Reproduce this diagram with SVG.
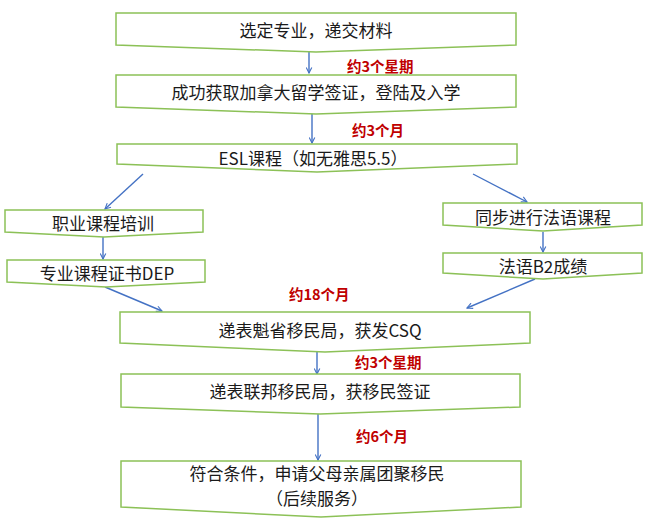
<svg xmlns="http://www.w3.org/2000/svg" width="648" height="526" viewBox="0 0 648 526">
<defs>
<marker id="ah" viewBox="0 0 10 10" refX="9" refY="5" markerWidth="7" markerHeight="7" markerUnits="userSpaceOnUse" orient="auto">
<path d="M1,1 L9,5 L1,9" fill="none" stroke="#4472C4" stroke-width="1.6"/>
</marker>
</defs>
<style>
.box{fill:#FFFFFF;stroke:#8CC157;stroke-width:1.5;}
.t{font-family:"Noto Sans CJK SC","Microsoft YaHei",sans-serif;font-size:17px;fill:#1a1a1a;text-anchor:middle;dominant-baseline:central;}
.l{font-family:"Noto Sans CJK SC",sans-serif;font-size:14.5px;font-weight:bold;fill:#C00000;dominant-baseline:central;}
.c{fill:none;stroke:#4472C4;stroke-width:1.4;marker-end:url(#ah);}
</style>
<rect width="648" height="526" fill="#FFFFFF"/>
<g id="connectors">
<line class="c" x1="309" y1="52" x2="309" y2="73"/>
<line class="c" x1="312" y1="113" x2="312" y2="143"/>
<line class="c" x1="143" y1="174" x2="105" y2="209"/>
<line class="c" x1="473" y1="174" x2="527" y2="202"/>
<line class="c" x1="103" y1="237" x2="103" y2="259"/>
<line class="c" x1="543" y1="232" x2="543" y2="252"/>
<line class="c" x1="105" y1="287" x2="162" y2="311"/>
<line class="c" x1="535" y1="279" x2="467" y2="308"/>
<line class="c" x1="317" y1="352" x2="317" y2="374"/>
<line class="c" x1="318" y1="414" x2="318" y2="460"/>
</g>
<g id="labels">
<text class="l" x="347" y="65">约3个星期</text>
<text class="l" x="352" y="129">约3个月</text>
<text class="l" x="289" y="293">约18个月</text>
<text class="l" x="355" y="361">约3个星期</text>
<text class="l" x="356" y="435">约6个月</text>
</g>
<g id="n1">
<path class="box" d="M116,13 L516,13 L516,45 L316,52 L116,45 Z"/>
<text class="t" x="316" y="29">选定专业，递交材料</text>
</g>
<g id="n2">
<path class="box" d="M116,75 L516,75 L516,107 L316,114 L116,107 Z"/>
<text class="t" x="316" y="91">成功获取加拿大留学签证，登陆及入学</text>
</g>
<g id="n3">
<path class="box" d="M117,144 L517,144 L517,164 L317,172 L117,164 Z"/>
<text class="t" x="313" y="157">ESL课程（如无雅思5.5）</text>
</g>
<g id="n4">
<path class="box" d="M5,210 L203,210 L203,232 L104,237 L5,232 Z"/>
<text class="t" x="103" y="222">职业课程培训</text>
</g>
<g id="n5">
<path class="box" d="M7,260 L205,260 L205,282 L106,287 L7,282 Z"/>
<text class="t" x="107" y="272">专业课程证书DEP</text>
</g>
<g id="n6">
<path class="box" d="M443,203 L642,203 L642,225 L543,231 L443,225 Z"/>
<text class="t" x="543" y="216">同步进行法语课程</text>
</g>
<g id="n7">
<path class="box" d="M443,253 L642,253 L642,273 L543,279 L443,273 Z"/>
<text class="t" x="543" y="265">法语B2成绩</text>
</g>
<g id="n8">
<path class="box" d="M120,312 L530,312 L530,343 L325,352 L120,343 Z"/>
<text class="t" x="320" y="329">递表魁省移民局，获发CSQ</text>
</g>
<g id="n9">
<path class="box" d="M121,374 L520,374 L520,407 L320,414 L121,407 Z"/>
<text class="t" x="320" y="390">递表联邦移民局，获移民签证</text>
</g>
<g id="n10">
<path class="box" d="M121,461 L521,461 L521,507 L321,517 L121,507 Z"/>
<text class="t" x="317" y="472">符合条件，申请父母亲属团聚移民</text>
<text class="t" x="317" y="497">（后续服务）</text>
</g>
</svg>
